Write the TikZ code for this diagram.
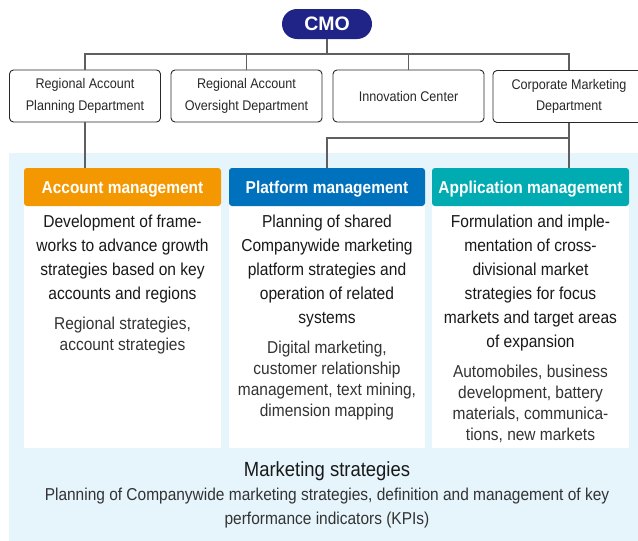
\documentclass[tikz,border=0pt]{standalone}
\usepackage{fontspec}
\setmainfont{Liberation Sans}[FakeStretch=0.9]
\newfontfamily\cmofont{Liberation Sans}
\usetikzlibrary{positioning}

\definecolor{cmoblue}{RGB}{32,36,134}
\definecolor{accorange}{RGB}{243,152,0}
\definecolor{platblue}{RGB}{0,113,188}
\definecolor{appteal}{RGB}{0,172,178}
\definecolor{bgblue}{RGB}{230,244,252}
\definecolor{linegray}{RGB}{95,95,95}
\definecolor{textgray}{RGB}{40,40,40}

\begin{document}
\begin{tikzpicture}[
        x=1pt, y=-1pt,
        cmobox/.style={fill=cmoblue, text=white, rounded corners=15pt,
                       minimum width=90pt, minimum height=30pt,
                       font=\cmofont\bfseries\fontsize{19.5}{22}\selectfont},
        deptbox/.style={draw=textgray, fill=white, rounded corners=4pt,
                        line width=0.9pt, minimum width=151pt, minimum height=52pt,
                        inner sep=0pt, align=center, text=textgray,
                        font=\fontsize{14}{21.5}\selectfont},
        headbox/.style={fill=#1, text=white, rounded corners=3pt,
                        minimum width=197pt, minimum height=38pt, inner sep=0pt,
                        text height=12.3pt, text depth=0pt,
                        font=\bfseries\fontsize{17.2}{20}\selectfont},
        panel/.style={fill=white, minimum width=197pt, minimum height=253pt,
                      inner sep=0pt},
        task/.style={anchor=north, inner sep=0pt, align=center, text=black!90,
                     font=\fontsize{17.3}{24}\selectfont},
        field/.style={inner sep=0pt, align=center, text=black!80,
                      font=\fontsize{17.2}{21}\selectfont},
        link/.style={draw=linegray, line width=1.1pt}
    ]
        \clip (0,0) rectangle (638,541);
        \fill[bgblue] (9,153) rectangle (638,541);

        % top level
        \node[cmobox] (cmo) at (327,24) {CMO};
        \node[deptbox] (rap)  at (85,96)    {Regional Account\\Planning Department};
        \node[deptbox] (rao)  at (246.5,96) {Regional Account\\Oversight Department};
        \node[deptbox] (inno) at (408.5,96) {Innovation Center};
        \node[deptbox, minimum width=152pt] (cmd) at (569,96.5)
            {Corporate Marketing\\Department};

        % three functions
        \node[panel] (pacc)  at (122.5,321.5) {};
        \node[panel, minimum width=196pt] (pplat) at (327,321.5) {};
        \node[panel] (papp)  at (530.5,321.5) {};
        \node[headbox=accorange] (hacc) at (122.5,187) {Account management};
        \node[headbox=platblue, minimum width=196pt] (hplat) at (327,187)
            {Platform management};
        \node[headbox=appteal] (happ) at (530.5,187) {Application management};

        \node[task] (tacc) at (122.5,214.5)
            {Development of frame-\\works to advance growth\\
             strategies based on key\\accounts and regions};
        \node[task] (tplat) at (327,214.5)
            {Planning of shared\\Companywide marketing\\
             platform strategies and\\operation of related\\systems};
        \node[task] (tapp) at (530.5,214.5)
            {Formulation and imple-\\mentation of cross-\\divisional market\\
             strategies for focus\\markets and target areas\\of expansion};

        \node[field, below=13.5pt of tacc] (facc)
            {Regional strategies,\\account strategies};
        \node[field, below=13.5pt of tplat] (fplat)
            {Digital marketing,\\customer relationship\\
             management, text mining,\\dimension mapping};
        \node[field, below=13.5pt of tapp] (fapp)
            {Automobiles, business\\development, battery\\
             materials, communica-\\tions, new markets};

        % common base
        \node[inner sep=0pt, text=black!90, font=\fontsize{20.5}{24}\selectfont]
            (base) at (327,471) {Marketing strategies};
        \node[field, below=7.5pt of base, font=\fontsize{17.2}{24}\selectfont] (basetext)
            {Planning of Companywide marketing strategies, definition and management of key\\
             performance indicators (KPIs)};

        % connectors
        \coordinate (bus) at (327,54);
        \coordinate (split) at (569,138);
        \draw[link] (cmo.south) -- (bus);
        \draw[link] (rap.north) |- (bus) -| (cmd.north);
        \draw[link] (rao.north) -- (rao.north |- bus);
        \draw[link] (inno.north) -- (inno.north |- bus);
        \draw[link] (rap.south) -- (rap.south |- hacc.north);
        \draw[link] (cmd.south) -- (cmd.south |- happ.north);
        \draw[link] (hplat.north) |- (split);
    \end{tikzpicture}
\end{document}
